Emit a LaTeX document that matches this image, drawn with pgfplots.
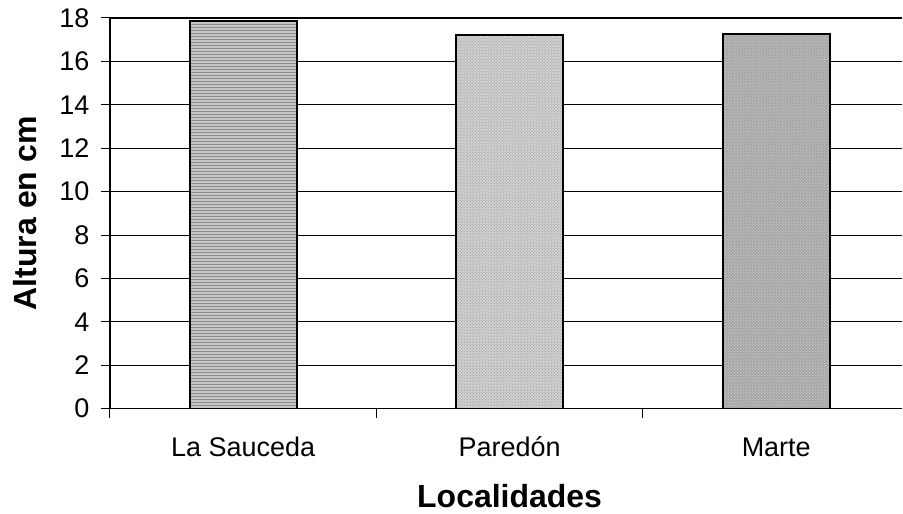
\documentclass[border=0pt]{standalone}
\usepackage{fontspec}
\setmainfont{Liberation Sans}
\usepackage{pgfplots}
\pgfplotsset{compat=1.18}
\usetikzlibrary{patterns}

\begin{document}
\begin{tikzpicture}
\begin{axis}[
    scale only axis,
    width=793pt, height=391pt,
    xmin=-0.5, xmax=2.473,
    ymin=0, ymax=18,
    ytick={0,2,...,18},
    xtick={-0.5,0.5,1.5},
    xticklabels={},
    extra x ticks={0,1,2},
    extra x tick labels={La Sauceda, Paredón, Marte},
    extra x tick style={major tick length=0pt, grid=none},
    axis x line*=bottom,
    axis y line*=left,
    axis line style={line width=1.4pt, -},
    ymajorgrids,
    major grid style={black, line width=0.8pt},
    tick style={black, line width=1pt},
    tick align=outside,
    major tick length=9pt,
    /pgf/number format/assume math mode=true,
    ticklabel style={font=\fontsize{27}{32}\selectfont},
    yticklabel style={anchor=east, xshift=-8pt},
    xticklabel style={anchor=base, yshift=-48pt},
    xlabel={\textbf{Localidades}},
    ylabel={\textbf{Altura en cm}},
    label style={font=\fontsize{32}{38}\selectfont},
    xlabel style={at={(axis description cs:0.5044,0)}, anchor=base, yshift=-99pt},
    ylabel style={at={(axis description cs:0,0.5)}, anchor=center, rotate=0, yshift=85pt},
    ybar, bar width=107pt, bar shift=0pt,
    every axis plot/.append style={draw=black, line width=2.2pt},
]
\addplot[fill=gray!45, postaction={pattern=horizontal lines, pattern color=gray!90}]
    coordinates {(0,17.85)};
\addplot[fill=gray!35, postaction={pattern=crosshatch dots, pattern color=gray!90}]
    coordinates {(1,17.2)};
\addplot[fill=gray!70, postaction={pattern=crosshatch dots, pattern color=gray!30}]
    coordinates {(2,17.28)};
\draw[black, line width=1.8pt] (axis cs:-0.5,18) -- (axis cs:2.473,18);
\end{axis}
\path ([shift={(-110pt,-105pt)}]current axis.south west) rectangle ([shift={(0pt,18pt)}]current axis.north east);
\end{tikzpicture}
\end{document}
